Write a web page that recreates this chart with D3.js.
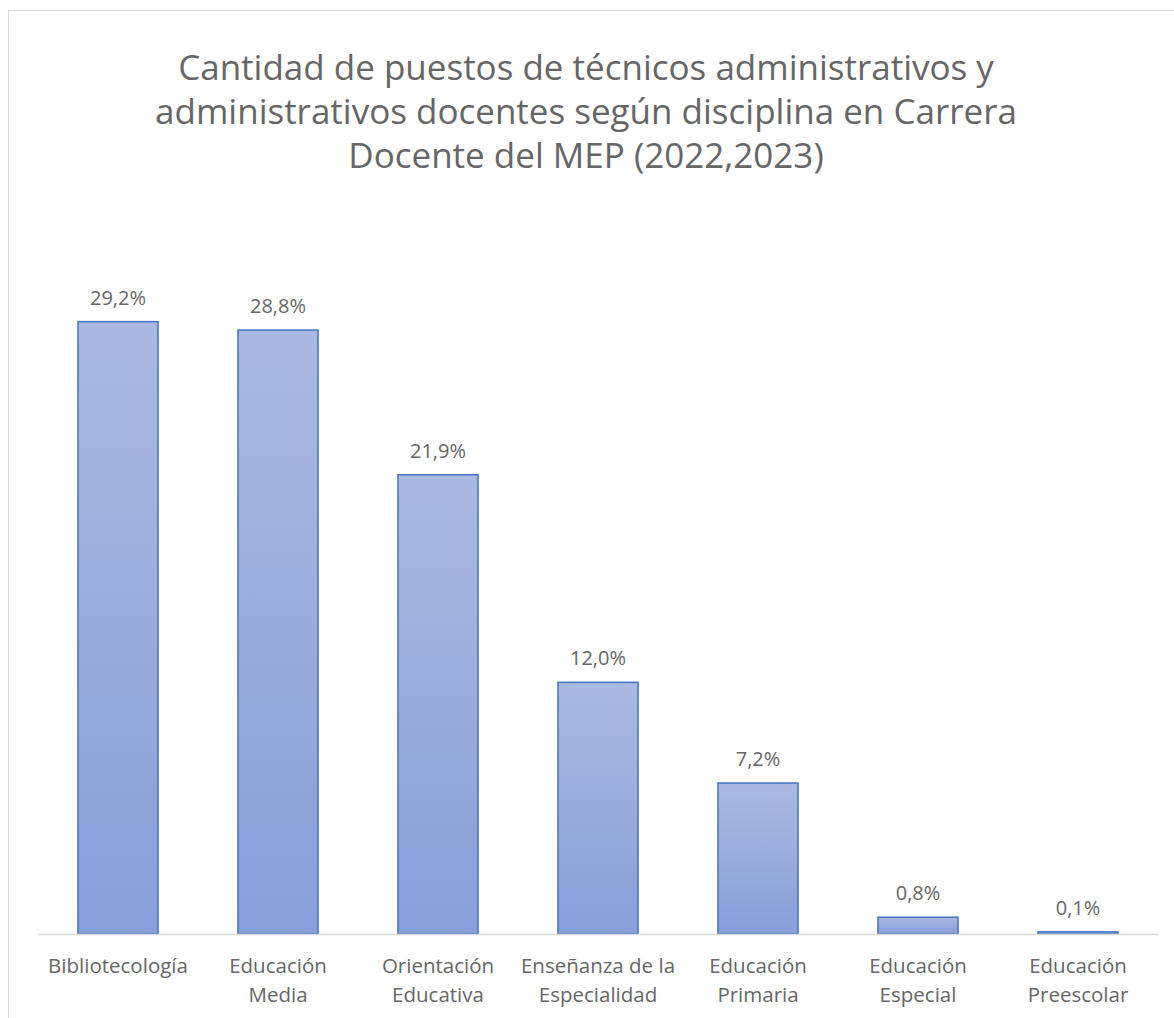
<!DOCTYPE html>
<html>
<head>
<meta charset="utf-8">
<script src="https://cdn.jsdelivr.net/npm/d3@7"></script>
<style>
  body { margin: 0; background: #fff; }
  text { font-family: "Open Sans", sans-serif; fill: #666666; }
</style>
</head>
<body>
<script>
const categories = [
  "Bibliotecología",
  "Educación Media",
  "Orientación Educativa",
  "Enseñanza de la Especialidad",
  "Educación Primaria",
  "Educación Especial",
  "Educación Preescolar"
];
// ticks are wrapped on two lines like the original
const tickLines = [
  ["Bibliotecología"],
  ["Educación", "Media"],
  ["Orientación", "Educativa"],
  ["Enseñanza de la", "Especialidad"],
  ["Educación", "Primaria"],
  ["Educación", "Especial"],
  ["Educación", "Preescolar"]
];
const values = [29.2, 28.8, 21.9, 12.0, 7.2, 0.8, 0.1];
const titleLines = [
  "Cantidad de puestos de técnicos administrativos y",
  "administrativos docentes según disciplina en Carrera",
  "Docente del MEP (2022,2023)"
];

const width = 1174, height = 1018;
const baseY = 934; // plot bottom

const svg = d3.select("body").append("svg")
  .attr("width", width)
  .attr("height", height);

// chart frame (runs off right/bottom like the screenshot)
svg.append("rect")
  .attr("x", 8.5).attr("y", 10.5)
  .attr("width", width + 20).attr("height", height + 20)
  .attr("fill", "#fff")
  .attr("stroke", "#d9d9d9");

const grad = svg.append("defs").append("linearGradient")
  .attr("id", "barFill")
  .attr("x1", 0).attr("y1", 0).attr("x2", 0).attr("y2", 1);
grad.append("stop").attr("offset", "0%").attr("stop-color", "#abb9e1");
grad.append("stop").attr("offset", "100%").attr("stop-color", "#879fd8");

const x = d3.scaleBand()
  .domain(categories)
  .range([38, 1158])
  .paddingInner(0.5)
  .paddingOuter(0.25);

const y = d3.scaleLinear()
  .domain([0, 35])
  .range([baseY, 200]);

// title
svg.append("text")
  .attr("text-anchor", "middle")
  .style("font-size", "35px")
  .selectAll("tspan")
  .data(titleLines)
  .join("tspan")
  .attr("x", 586)
  .attr("y", (d, i) => 80 + i * 44)
  .text(d => d);

// bars
svg.selectAll("rect.bar")
  .data(values)
  .join("rect")
  .attr("class", "bar")
  .attr("x", (d, i) => x(categories[i]))
  .attr("y", d => y(d))
  .attr("width", x.bandwidth())
  .attr("height", d => baseY - y(d))
  .attr("fill", "url(#barFill)")
  .attr("stroke", "#4472c4")
  .attr("stroke-width", 1.5);

// value labels
svg.selectAll("text.val")
  .data(values)
  .join("text")
  .attr("class", "val")
  .attr("text-anchor", "middle")
  .attr("x", (d, i) => x(categories[i]) + x.bandwidth() / 2)
  .attr("y", d => y(d) - 17)
  .style("font-size", "20px")
  .text(d => d3.format(".1f")(d).replace(".", ",") + "%");

// x axis
const xAxis = d3.axisBottom(x).tickSize(0).tickFormat("");
const gx = svg.append("g")
  .attr("transform", "translate(0," + baseY + ")")
  .call(xAxis);
gx.select(".domain").attr("stroke", "#d9d9d9").attr("stroke-width", 1.5);

gx.selectAll(".tick").append("text")
  .attr("text-anchor", "middle")
  .style("font-size", "20.5px")
  .selectAll("tspan")
  .data((d, i) => tickLines[i])
  .join("tspan")
  .attr("x", 0)
  .attr("y", (d, i) => 39 + i * 29)
  .text(d => d);
</script>
</body>
</html>
